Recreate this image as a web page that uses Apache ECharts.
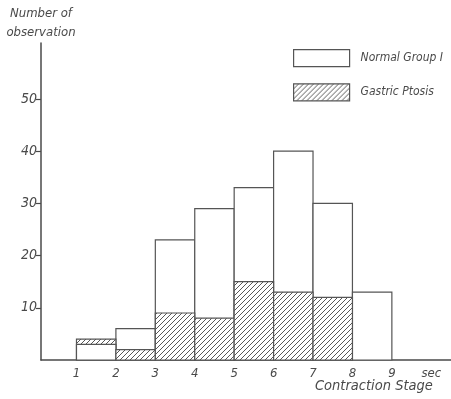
<!DOCTYPE html>
<html>
<head>
<meta charset="utf-8">
<script src="https://cdn.jsdelivr.net/npm/echarts@6/dist/echarts.min.js"></script>
<style>
  html, body { margin: 0; padding: 0; background: #fff; }
  #chart { width: 451px; height: 399px; }
</style>
</head>
<body>
<div id="chart"></div>
<script>
// bins (left edge, sec) and counts
const binStart = [1, 2, 3, 4, 5, 6, 7, 8];
const normalGroup = [3, 6, 23, 29, 33, 40, 30, 13];
const gastricPtosis = [4, 2, 9, 8, 15, 13, 12, 0];
const yTicks = [10, 20, 30, 40, 50];
const xTicks = [1, 2, 3, 4, 5, 6, 7, 8, 9, 10];

const FONT = "'DejaVu Sans Condensed', 'Liberation Sans Narrow', sans-serif";
const INK = '#4a4a4a';

// diagonal hatching "/"
function hatch() {
  const c = document.createElement('canvas');
  c.width = 5; c.height = 5;
  const g = c.getContext('2d');
  g.fillStyle = '#fff';
  g.fillRect(0, 0, 5, 5);
  g.strokeStyle = '#444';
  g.lineWidth = 0.9;
  g.beginPath();
  g.moveTo(-1, 6); g.lineTo(6, -1);
  g.moveTo(-1, 1); g.lineTo(1, -1);
  g.moveTo(4, 6); g.lineTo(6, 4);
  g.stroke();
  return { image: c, repeat: 'repeat' };
}
const hatchFill = hatch();

// bigger bar goes behind the smaller one
function histSeries(name, values, other, fill) {
  return {
    name: name,
    type: 'custom',
    itemStyle: { color: fill, borderColor: '#555', borderWidth: 1.2 },
    data: binStart.map((s, i) => [s, s + 1, values[i], other[i]]),
    renderItem: function (params, api) {
      const v = api.value(2);
      if (!v) return null;
      const p0 = api.coord([api.value(0), 0]);
      const p1 = api.coord([api.value(1), v]);
      return {
        type: 'rect',
        z2: v >= api.value(3) ? 1 : 2,
        shape: { x: p0[0], y: p1[1], width: p1[0] - p0[0], height: p0[1] - p1[1] },
        style: { fill: fill, stroke: '#555', lineWidth: 1.2 }
      };
    }
  };
}

const chart = echarts.init(document.getElementById('chart'));
chart.setOption({
  animation: false,
  backgroundColor: '#fff',
  grid: { left: 41, right: 0, top: 43, bottom: 39 },
  legend: {
    orient: 'vertical',
    left: 288,
    top: 44,
    itemWidth: 56,
    itemHeight: 17,
    itemGap: 16,
    selectedMode: false,
    textStyle: { fontFamily: FONT, fontStyle: 'italic', fontSize: 12, color: INK, padding: [0, 0, 0, 6] },
    data: [
      { name: 'Normal Group I', icon: 'rect', itemStyle: { color: '#fff', borderColor: '#555', borderWidth: 1.2 } },
      { name: 'Gastric Ptosis', icon: 'rect', itemStyle: { color: hatchFill, borderColor: '#555', borderWidth: 1.2 } }
    ]
  },
  xAxis: {
    type: 'value',
    min: 0.1,
    max: 10.5,
    splitLine: { show: false },
    axisLine: { lineStyle: { color: INK, width: 1.5 } },
    axisTick: { show: false },
    axisLabel: {
      customValues: xTicks,
      margin: 7,
      fontFamily: FONT, fontStyle: 'italic', fontSize: 13, color: INK,
      formatter: v => (v === 10 ? 'sec' : String(v))
    }
  },
  yAxis: {
    type: 'value',
    min: 0,
    max: 60.7,
    splitLine: { show: false },
    axisLine: { show: true, lineStyle: { color: INK, width: 1.5 } },
    axisTick: { show: true, customValues: yTicks, length: 5, lineStyle: { color: INK, width: 1.2 } },
    axisLabel: {
      customValues: yTicks,
      margin: 4,
      fontFamily: FONT, fontStyle: 'italic', fontSize: 14, color: INK
    },
    name: 'Number of\nobservation',
    nameLocation: 'end',
    nameGap: 1,
    nameTextStyle: { fontFamily: FONT, fontStyle: 'italic', fontSize: 13, color: INK, lineHeight: 19 }
  },
  graphic: [{
    type: 'text',
    left: 315,
    top: 379,
    style: { text: 'Contraction Stage', fontFamily: FONT, fontStyle: 'italic', fontSize: 14.5, fill: INK }
  }],
  series: [
    histSeries('Normal Group I', normalGroup, gastricPtosis, '#fff'),
    histSeries('Gastric Ptosis', gastricPtosis, normalGroup, hatchFill)
  ]
});
</script>
</body>
</html>
